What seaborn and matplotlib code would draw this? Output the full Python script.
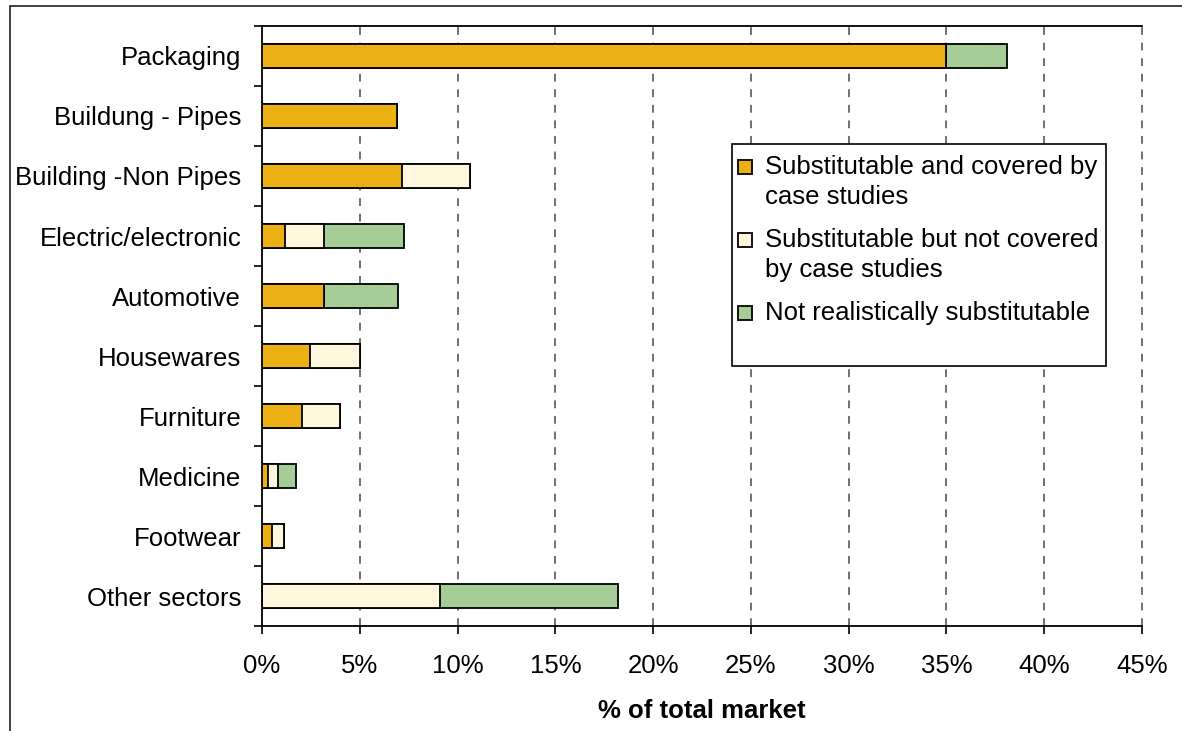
import numpy as np
import pandas as pd
import seaborn as sns
from matplotlib import pyplot as plt
from matplotlib.patches import Rectangle
from matplotlib.lines import Line2D

sectors = ['Packaging', 'Buildung - Pipes', 'Building -Non Pipes', 'Electric/electronic',
           'Automotive', 'Housewares', 'Furniture', 'Medicine', 'Footwear', 'Other sectors']
covered = [35.0, 6.9, 7.15, 1.2, 3.15, 2.45, 2.05, 0.3, 0.5, 0.0]
not_covered = [0.0, 0.0, 3.5, 1.95, 0.0, 2.55, 1.95, 0.5, 0.6, 9.1]
not_subst = [3.1, 0.0, 0.0, 4.1, 3.8, 0.0, 0.0, 0.95, 0.0, 9.1]
series_names = ['Substitutable and covered by\ncase studies',
                'Substitutable but not covered\nby case studies',
                'Not realistically substitutable']
xticks = [0, 5, 10, 15, 20, 25, 30, 35, 40, 45]

c_orange = '#EBB013'
c_cream = '#FFF7DD'
c_green = '#A6CD98'

sns.set_style('white')
plt.rcParams['font.family'] = ['Liberation Sans', 'DejaVu Sans']
plt.rcParams['text.color'] = 'black'
plt.rcParams['axes.labelcolor'] = 'black'
plt.rcParams['xtick.color'] = 'black'
plt.rcParams['ytick.color'] = 'black'

df = pd.DataFrame({'sector': sectors, 'covered': covered,
                   'not_covered': not_covered, 'not_subst': not_subst})
df['lvl2'] = df['covered'] + df['not_covered']
df['total'] = df['lvl2'] + df['not_subst']

W, H = 1182, 731
fig = plt.figure(figsize=(W / 100, H / 100), dpi=100)
ax = fig.add_axes([262 / W, 1 - 626 / H, (1142 - 262) / W, 600 / H])

# stacked look: draw cumulative totals, largest first
for col, c in [('total', c_green), ('lvl2', c_cream), ('covered', c_orange)]:
    sns.barplot(data=df, x=col, y='sector', orient='h', color=c, saturation=1,
                edgecolor='black', linewidth=1.3, width=0.4, errorbar=None, ax=ax, zorder=3)

ax.set_xlim(0, 45)
ax.set_ylim(9.5, -0.5)
ax.set_xticks(xticks)
ax.set_xticklabels([f'{t}%' for t in xticks])
ax.set_yticks(np.arange(-0.5, 10, 1), minor=True)
ax.tick_params(axis='y', which='major', length=0, pad=15, labelsize=18.5)
ax.tick_params(axis='y', which='minor', length=6, width=1.2, direction='out', left=True)
ax.tick_params(axis='x', length=6, width=1.2, direction='out', bottom=True, pad=14, labelsize=18.5)
ax.set_ylabel('')
ax.set_xlabel('% of total market', fontsize=18.5, fontweight='bold', labelpad=15)

for t in xticks[1:]:
    ax.axvline(t, color='#707070', lw=1.4, ls=(0, (4, 4)), zorder=1, clip_on=False)

for s in ['left', 'bottom', 'top']:
    ax.spines[s].set_color('black')
    ax.spines[s].set_linewidth(1.3)
ax.spines['right'].set_visible(False)

# legend box (drawn by hand so the square sits on the first text line)
fig.add_artist(Rectangle((732 / W, 1 - 366 / H), (1106 - 732) / W, (366 - 144) / H,
                         transform=fig.transFigure, facecolor='white', edgecolor='black',
                         lw=1.2, zorder=5))
entry_y = [167, 240, 313]
for name, c, y0 in zip(series_names, (c_orange, c_cream, c_green), entry_y):
    fig.add_artist(Rectangle((738 / W, 1 - (y0 + 7) / H), 14 / W, 14 / H,
                             transform=fig.transFigure, facecolor=c, edgecolor='black',
                             lw=1.3, zorder=6))
    for j, line in enumerate(name.split('\n')):
        fig.text(765 / W, 1 - (y0 + 30 * j) / H, line, fontsize=18.5, va='center',
                 ha='left', zorder=7)

# outer frame
fig.add_artist(Line2D([10 / W, 1], [1 - 6 / H, 1 - 6 / H], transform=fig.transFigure, color='#333333', lw=1.3))
fig.add_artist(Line2D([10 / W, 10 / W], [0, 1 - 6 / H], transform=fig.transFigure, color='#333333', lw=1.3))

fig.savefig('out.png', dpi=100)
